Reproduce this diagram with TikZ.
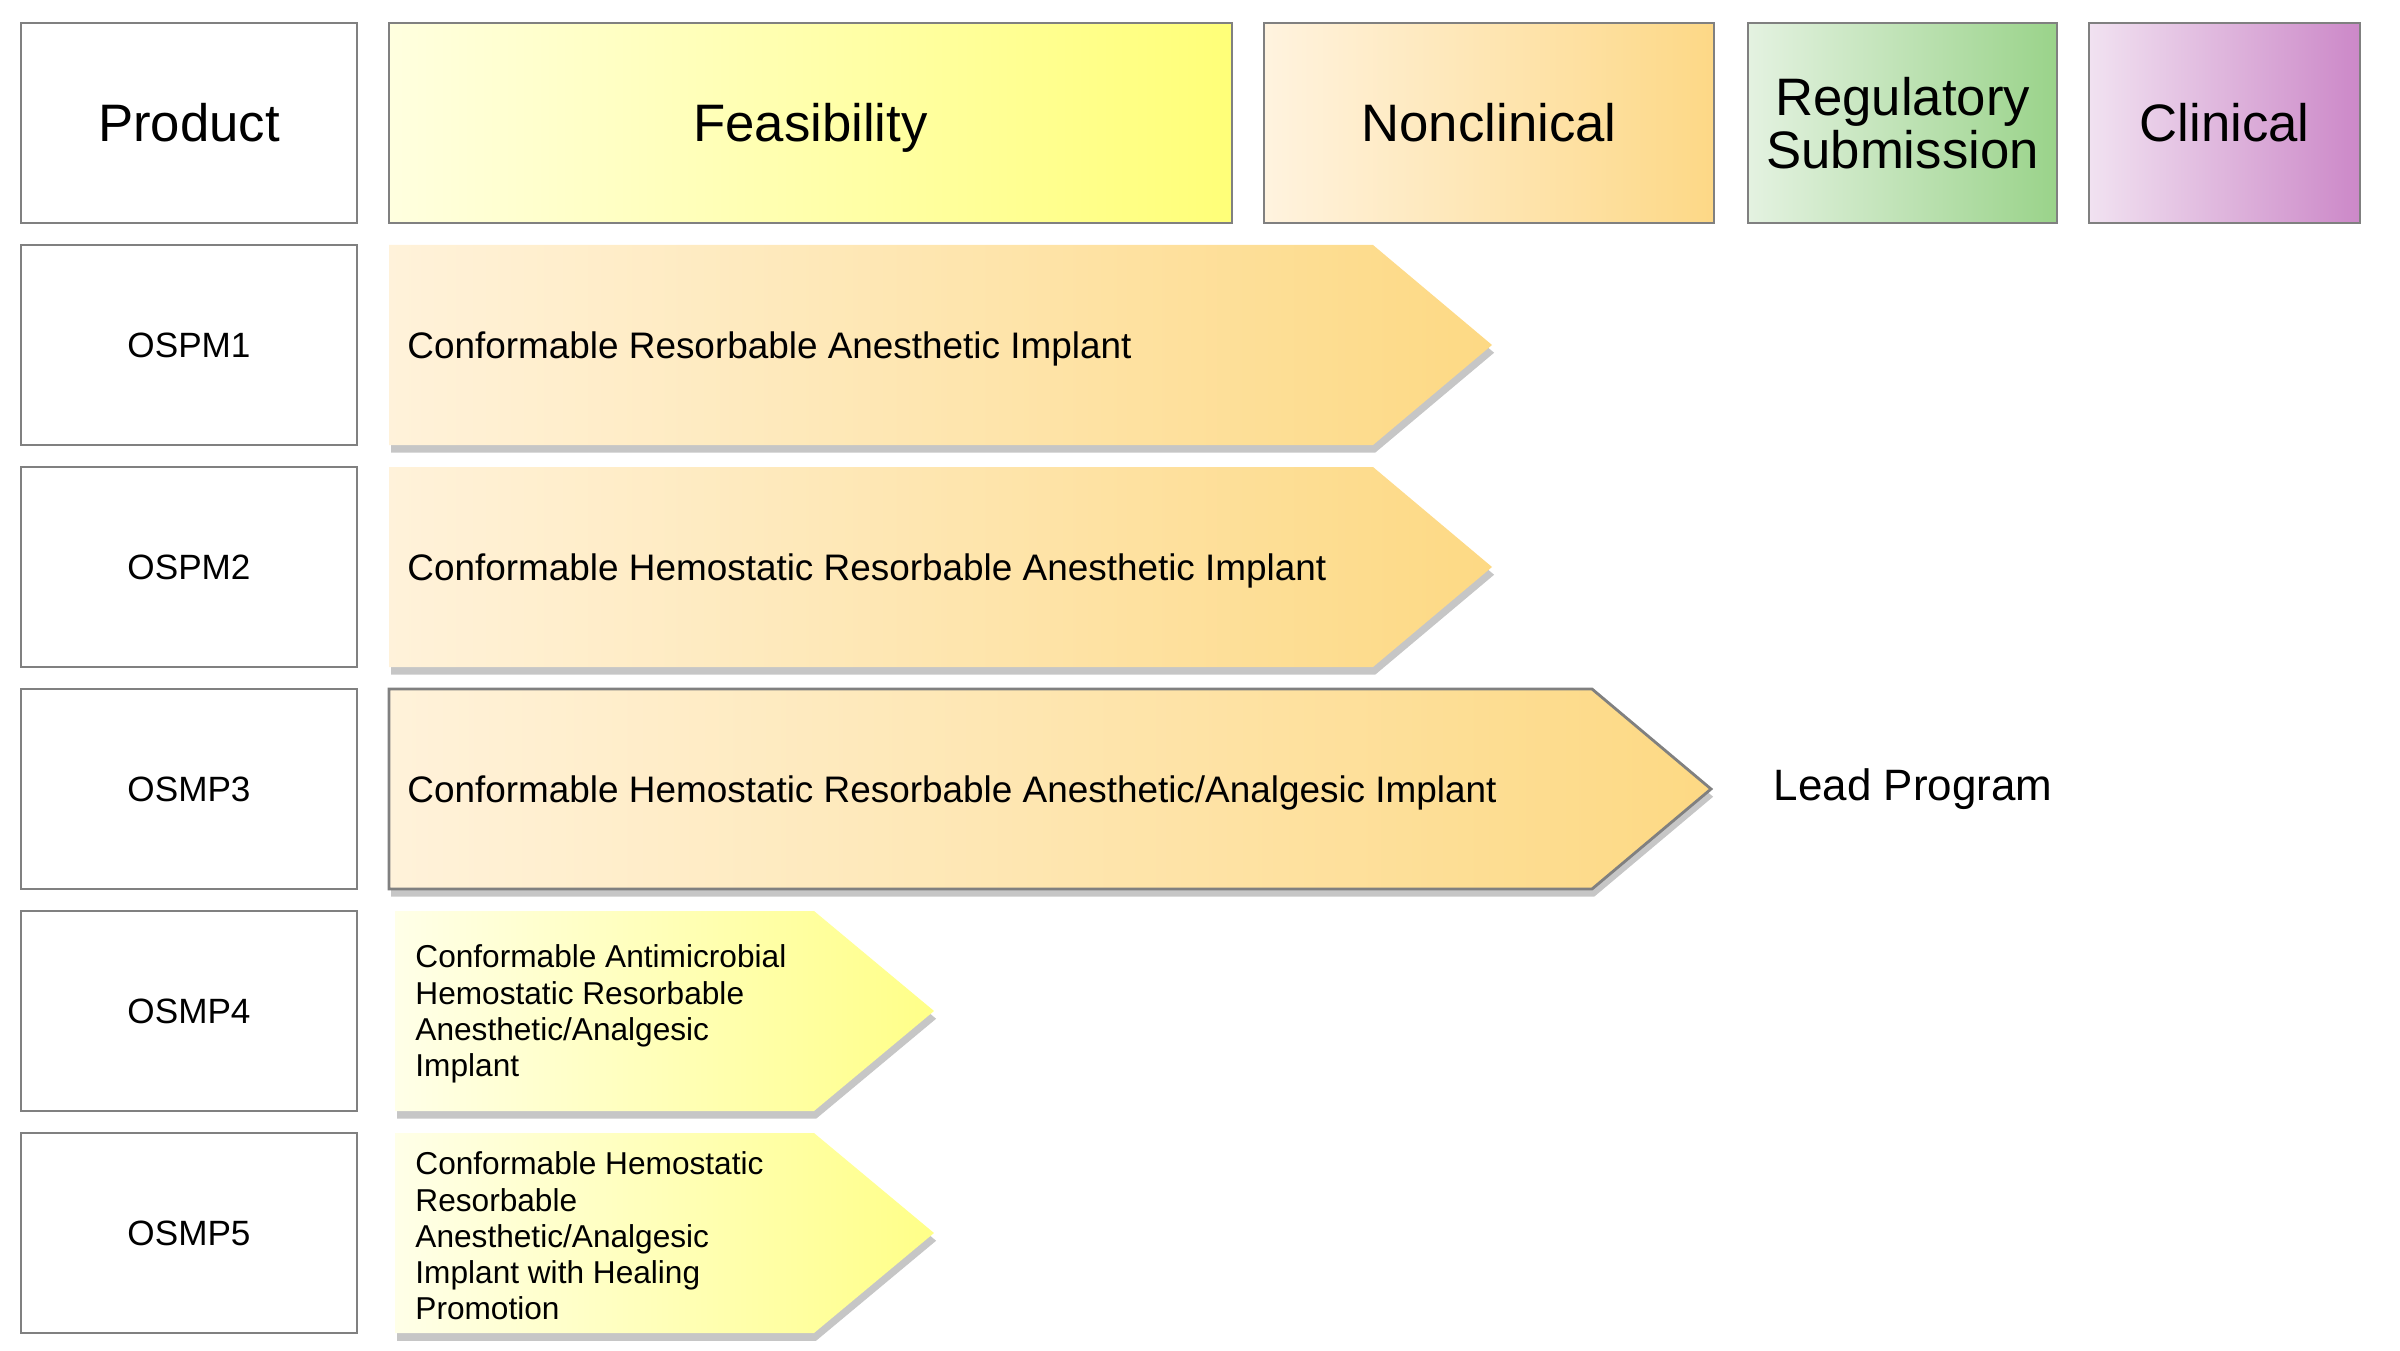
\documentclass[tikz,border=0pt]{standalone}
\usepackage{fontspec}
\setmainfont{Liberation Sans}
\usetikzlibrary{shadows}

\definecolor{edgegray}{HTML}{808080}
\definecolor{feasL}{HTML}{FFFFDF}
\definecolor{feasR}{HTML}{FFFF78}
\definecolor{nonclL}{HTML}{FFF3DF}
\definecolor{nonclR}{HTML}{FDD886}
\definecolor{regL}{HTML}{E4F2E1}
\definecolor{regR}{HTML}{9AD38A}
\definecolor{clinL}{HTML}{F1E2F1}
\definecolor{clinR}{HTML}{CC88C8}
\definecolor{orangeL}{HTML}{FFF2DA}
\definecolor{orangeR}{HTML}{FDD984}
\definecolor{yellowL}{HTML}{FFFFE8}
\definecolor{yellowR}{HTML}{FFFF88}

\tikzset{
  cell/.style={draw=edgegray, line width=0.8pt, minimum height=2cm, inner sep=2pt, align=center},
  head/.style={cell, font=\fontsize{15}{15}\selectfont},
  oneline/.style={text height=#1, text depth=0pt},
  prod/.style={cell, oneline=7.2pt, fill=white, minimum width=3.36cm, font=\fontsize{10}{12}\selectfont},
  bar/.style={drop shadow={shadow xshift=0.6pt, shadow yshift=-2.2pt, opacity=0.45}},
  bartext/.style={anchor=west, oneline=7.5pt, font=\fontsize{10.5}{12}\selectfont},
  smalltext/.style={anchor=west, align=left, font=\fontsize{9}{10.3}\selectfont},
}

\begin{document}
\begin{tikzpicture}
  \useasboundingbox (0,0) rectangle (24,13.5);

  % header row
  \node[head, oneline=10.7pt, fill=white, minimum width=3.36cm] (product) at (1.89,12.27) {Product};
  \node[head, oneline=10.7pt, left color=feasL, right color=feasR, minimum width=8.43cm] (feas) at (8.105,12.27) {Feasibility};
  \node[head, oneline=10.7pt, left color=nonclL, right color=nonclR, minimum width=4.50cm] (noncl) at (14.89,12.27) {Nonclinical};
  \node[head, left color=regL, right color=regR, minimum width=3.09cm] (reg) at (19.025,12.27) {Regulatory\\Submission};
  \node[head, oneline=10.7pt, left color=clinL, right color=clinR, minimum width=2.71cm] (clin) at (22.245,12.27) {Clinical};

  % product column
  \node[prod] (p1) at (1.89,10.05) {OSPM1};
  \node[prod] (p2) at (1.89,7.83) {OSPM2};
  \node[prod] (p3) at (1.89,5.61) {OSMP3};
  \node[prod] (p4) at (1.89,3.39) {OSMP4};
  \node[prod] (p5) at (1.89,1.17) {OSMP5};

  % progress bars
  \path[bar, left color=orangeL, right color=orangeR]
    (3.89,11.05) -- (13.73,11.05) -- (14.92,10.05) -- (13.73,9.05) -- (3.89,9.05) -- cycle;
  \path[bar, left color=orangeL, right color=orangeR]
    (3.89,8.83) -- (13.73,8.83) -- (14.92,7.83) -- (13.73,6.83) -- (3.89,6.83) -- cycle;
  \draw[bar, draw=edgegray, line width=0.8pt, left color=orangeL, right color=orangeR]
    (3.89,6.61) -- (15.92,6.61) -- (17.11,5.61) -- (15.92,4.61) -- (3.89,4.61) -- cycle;
  \path[bar, left color=yellowL, right color=yellowR]
    (3.95,4.39) -- (8.14,4.39) -- (9.34,3.39) -- (8.14,2.39) -- (3.95,2.39) -- cycle;
  \path[bar, left color=yellowL, right color=yellowR]
    (3.95,2.17) -- (8.14,2.17) -- (9.34,1.17) -- (8.14,0.17) -- (3.95,0.17) -- cycle;

  \node[bartext] (t1) at (3.95,10.05) {Conformable Resorbable Anesthetic Implant};
  \node[bartext] (t2) at (3.95,7.83) {Conformable Hemostatic Resorbable Anesthetic Implant};
  \node[bartext] (t3) at (3.95,5.61) {Conformable Hemostatic Resorbable Anesthetic/Analgesic Implant};
  \node[smalltext] (t4) at (4.03,3.36)
    {Conformable Antimicrobial\\Hemostatic Resorbable\\Anesthetic/Analgesic\\Implant};
  \node[smalltext] (t5) at (4.03,1.14)
    {Conformable Hemostatic\\Resorbable\\Anesthetic/Analgesic\\Implant with Healing\\Promotion};

  \node[oneline=9pt, font=\fontsize{12.5}{14}\selectfont] (lead) at (19.13,5.65) {Lead Program};
\end{tikzpicture}
\end{document}
